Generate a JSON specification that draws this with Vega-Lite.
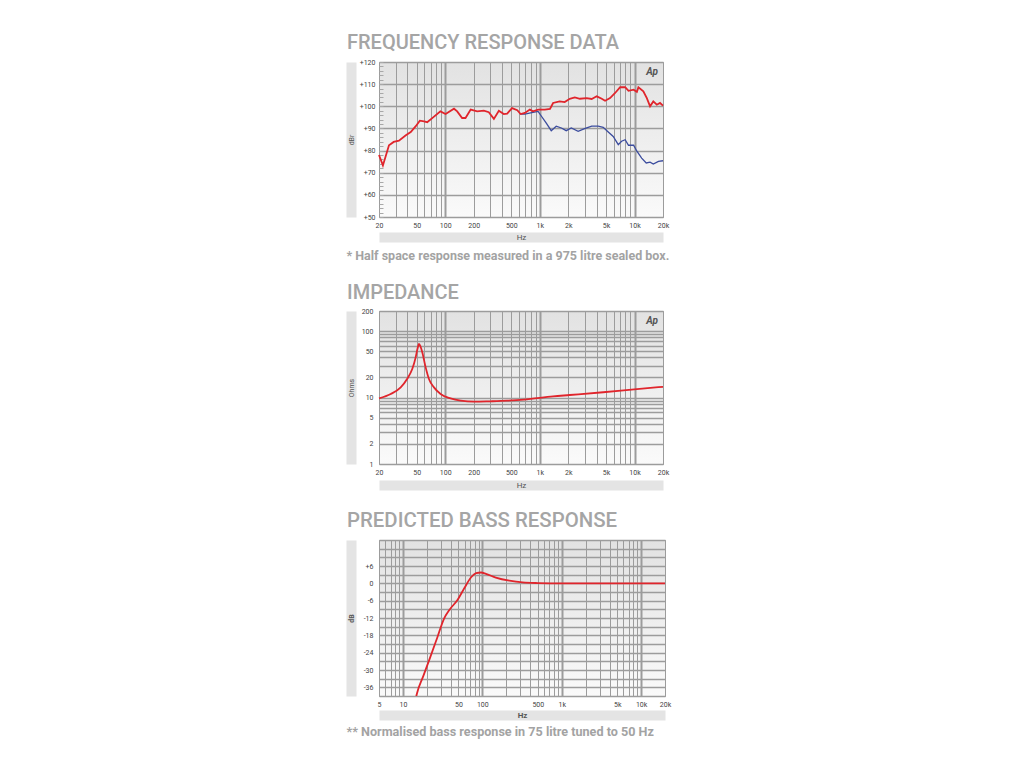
{
  "$schema": "https://vega.github.io/schema/vega-lite/v6.json",
  "padding": {"left": 346, "top": 32, "right": 0, "bottom": 0},
  "background": "#ffffff",
  "spacing": 20,
  "datasets": {
    "fr_red": [
      {"f": 20, "db": 78}, {"f": 22, "db": 73.3}, {"f": 25.5, "db": 82.4}, {"f": 28.6, "db": 83.9},
      {"f": 32.5, "db": 84.5}, {"f": 38.4, "db": 86.9}, {"f": 43.3, "db": 88.4}, {"f": 48.9, "db": 91},
      {"f": 54, "db": 93.5}, {"f": 59.9, "db": 93.2}, {"f": 64.6, "db": 92.8}, {"f": 74.6, "db": 95},
      {"f": 89, "db": 97.7}, {"f": 101, "db": 96.5}, {"f": 124, "db": 98.9}, {"f": 134, "db": 97.7},
      {"f": 151, "db": 94.7}, {"f": 164, "db": 94.7}, {"f": 186, "db": 98.5}, {"f": 218, "db": 97.7},
      {"f": 256, "db": 98}, {"f": 289, "db": 97.3}, {"f": 327, "db": 94.3}, {"f": 369, "db": 98},
      {"f": 416, "db": 96.5}, {"f": 452, "db": 96.7}, {"f": 509, "db": 99.2}, {"f": 578, "db": 98.2},
      {"f": 626, "db": 96.5}, {"f": 695, "db": 97}, {"f": 784, "db": 98.5}, {"f": 847, "db": 97.7},
      {"f": 958, "db": 98.5}, {"f": 1130, "db": 98.5}, {"f": 1280, "db": 98.8}, {"f": 1380, "db": 101.5},
      {"f": 1620, "db": 102.2}, {"f": 1830, "db": 101.9}, {"f": 2070, "db": 103.4}, {"f": 2340, "db": 104},
      {"f": 2650, "db": 103.4}, {"f": 3120, "db": 103.7}, {"f": 3530, "db": 103.3}, {"f": 3990, "db": 104.5},
      {"f": 4510, "db": 103.4}, {"f": 4890, "db": 102.5}, {"f": 5520, "db": 103.7}, {"f": 6240, "db": 106},
      {"f": 7050, "db": 108.6}, {"f": 7970, "db": 108.6}, {"f": 8640, "db": 107}, {"f": 9780, "db": 107.5},
      {"f": 10600, "db": 106.5}, {"f": 11000, "db": 108.6}, {"f": 12400, "db": 106.8}, {"f": 13500, "db": 103.7},
      {"f": 14600, "db": 100}, {"f": 15800, "db": 102.2}, {"f": 17200, "db": 100.7}, {"f": 18600, "db": 101.5},
      {"f": 20000, "db": 100.3}
    ],
    "fr_blue": [
      {"f": 626, "db": 96.5}, {"f": 695, "db": 96.5}, {"f": 847, "db": 97.3}, {"f": 958, "db": 97.7},
      {"f": 1040, "db": 95.5}, {"f": 1170, "db": 92.4}, {"f": 1320, "db": 89}, {"f": 1490, "db": 91},
      {"f": 1690, "db": 90.2}, {"f": 1900, "db": 89}, {"f": 2150, "db": 90.2}, {"f": 2540, "db": 88.7},
      {"f": 2970, "db": 89.9}, {"f": 3530, "db": 91}, {"f": 4130, "db": 91}, {"f": 4670, "db": 90.5},
      {"f": 5280, "db": 88.4}, {"f": 5960, "db": 86.4}, {"f": 6740, "db": 82.7}, {"f": 7300, "db": 84.2},
      {"f": 7970, "db": 84.9}, {"f": 8640, "db": 82.4}, {"f": 9780, "db": 82.4}, {"f": 10600, "db": 79.7},
      {"f": 11900, "db": 76.6}, {"f": 13300, "db": 74.4}, {"f": 14600, "db": 74.8}, {"f": 15800, "db": 73.9},
      {"f": 17900, "db": 75.1}, {"f": 20000, "db": 75.4}
    ],
    "imp": [
      {"f": 20, "ohm": 9.7}, {"f": 26.6, "ohm": 11.3}, {"f": 33.9, "ohm": 14.2}, {"f": 39.6, "ohm": 19},
      {"f": 44.9, "ohm": 26.8}, {"f": 48.8, "ohm": 40.2}, {"f": 51, "ohm": 54}, {"f": 52.9, "ohm": 63.8},
      {"f": 55, "ohm": 58}, {"f": 57.3, "ohm": 48}, {"f": 62.2, "ohm": 28.4}, {"f": 67.4, "ohm": 19},
      {"f": 76.2, "ohm": 14.2}, {"f": 89.4, "ohm": 11.3}, {"f": 114, "ohm": 9.7}, {"f": 146, "ohm": 8.95},
      {"f": 202, "ohm": 8.65}, {"f": 300, "ohm": 8.77}, {"f": 452, "ohm": 8.95}, {"f": 678, "ohm": 9.27},
      {"f": 1380, "ohm": 10.4}, {"f": 2070, "ohm": 10.9}, {"f": 4670, "ohm": 12}, {"f": 10600, "ohm": 13.4},
      {"f": 20000, "ohm": 14.5}
    ],
    "bass": [
      {"f": 14.5, "db": -40}, {"f": 15, "db": -38.2}, {"f": 18, "db": -32.2}, {"f": 22, "db": -25.7},
      {"f": 27, "db": -18.9}, {"f": 33, "db": -12.2}, {"f": 38.5, "db": -9.2}, {"f": 48.9, "db": -5.7},
      {"f": 59.3, "db": -1.7}, {"f": 72.3, "db": 2.1}, {"f": 83.4, "db": 3.5}, {"f": 96.6, "db": 3.75},
      {"f": 111, "db": 3.3}, {"f": 148, "db": 2.0}, {"f": 219, "db": 0.9}, {"f": 322, "db": 0.3},
      {"f": 500, "db": 0.1}, {"f": 1000, "db": 0}, {"f": 20000, "db": 0}
    ],
    "one": [{"k": 1}]
  },
  "vconcat": [
    {
      "title": {"text": "* Half space response measured in a 975 litre sealed box.", "orient": "bottom", "anchor": "start", "fontSize": 12.5, "fontWeight": "bold", "color": "#a3a3a3", "offset": 8, "font": "Roboto"},
      "vconcat": [
        {
          "width": 284, "height": 155,
          "title": {"text": "FREQUENCY RESPONSE DATA", "offset": 5},
          "layer": [
            {
              "data": {"name": "fr_blue"},
              "mark": {"type": "line", "color": "#3b4c9e", "strokeWidth": 1.3},
              "encoding": {
                "x": {"field": "f", "type": "quantitative", "scale": {"type": "log", "domain": [20, 20000], "nice": false},
                  "axis": {"values": [20,30,40,50,60,70,80,90,100,200,300,400,500,600,700,800,900,1000,2000,3000,4000,5000,6000,7000,8000,9000,10000,20000],
                    "grid": true, "gridColor": "#9c9c9c",
                    "gridWidth": {"condition": {"test": "indexof([100,1000,10000], datum.value) >= 0", "value": 2}, "value": 1},
                    "ticks": false, "domain": false, "title": null, "labelOverlap": false, "labelFlush": false, "labelPadding": 4,
                    "labelExpr": "indexof([20,50,100,200,500,1000,2000,5000,10000,20000], datum.value) >= 0 ? (datum.value >= 1000 ? (datum.value/1000) + 'k' : '' + datum.value) : ''"}},
                "y": {"field": "db", "type": "quantitative", "scale": {"domain": [50, 120], "nice": false, "zero": false},
                  "axis": {"values": [50,52,54,56,58,60,62,64,66,68,70,72,74,76,78,80,82,84,86,88,90,92,94,96,98,100,102,104,106,108,110,112,114,116,118,120],
                    "grid": true, "gridColor": "#9c9c9c", "gridWidth": 1.5,
                    "gridOpacity": {"condition": {"test": "datum.value % 10 == 0", "value": 1}, "value": 0},
                    "tickSize": -4, "tickColor": "#a8a8a8", "domain": false, "title": null, "labelOverlap": false, "labelFlush": false, "labelPadding": 8,
                    "labelExpr": "datum.value % 10 == 0 ? '+' + datum.value : ''"}}
              }
            },
            {
              "data": {"name": "fr_red"},
              "mark": {"type": "line", "color": "#e0252c", "strokeWidth": 1.8},
              "encoding": {
                "x": {"field": "f", "type": "quantitative", "axis": null},
                "y": {"field": "db", "type": "quantitative", "axis": null}
              }
            },
            {
              "data": {"name": "one"},
              "mark": {"type": "text", "text": "Ap", "align": "right", "baseline": "middle", "dx": -5, "dy": 10, "fontSize": 10, "fontStyle": "italic", "fontWeight": "bold", "color": "#555555", "font": "Roboto"},
              "encoding": {
                "x": {"datum": 20000, "type": "quantitative",
                  "axis": {"orient": "bottom", "offset": 20, "domain": true, "domainColor": "#e4e4e4", "domainWidth": 10, "ticks": false, "labels": false, "grid": false,
                    "title": "Hz", "titleY": 0, "titleBaseline": "middle", "titleFontSize": 8, "titleFontWeight": "normal", "titleColor": "#555555"}},
                "y": {"datum": 120, "type": "quantitative",
                  "axis": {"orient": "left", "offset": 28, "domain": true, "domainColor": "#e4e4e4", "domainWidth": 10, "ticks": false, "labels": false, "grid": false,
                    "title": "dBr", "titleX": 0, "titleBaseline": "middle", "titleAngle": -90, "titleFontSize": 7, "titleFontWeight": "normal", "titleColor": "#555555"}}
              }
            }
          ],
          "resolve": {"axis": {"x": "independent", "y": "independent"}}
        }
      ]
    },
    {
      "width": 284, "height": 153,
      "title": {"text": "IMPEDANCE", "offset": 4},
      "layer": [
        {
          "data": {"name": "imp"},
          "mark": {"type": "line", "color": "#e0252c", "strokeWidth": 1.8, "interpolate": "monotone"},
          "encoding": {
            "x": {"field": "f", "type": "quantitative", "scale": {"type": "log", "domain": [20, 20000], "nice": false},
              "axis": {"values": [20,30,40,50,60,70,80,90,100,200,300,400,500,600,700,800,900,1000,2000,3000,4000,5000,6000,7000,8000,9000,10000,20000],
                "grid": true, "gridColor": "#9c9c9c",
                "gridWidth": {"condition": {"test": "indexof([100,1000,10000], datum.value) >= 0", "value": 2}, "value": 1},
                "ticks": false, "domain": false, "title": null, "labelOverlap": false, "labelFlush": false, "labelPadding": 4,
                "labelExpr": "indexof([20,50,100,200,500,1000,2000,5000,10000,20000], datum.value) >= 0 ? (datum.value >= 1000 ? (datum.value/1000) + 'k' : '' + datum.value) : ''"}},
            "y": {"field": "ohm", "type": "quantitative", "scale": {"type": "log", "domain": [1, 200], "nice": false},
              "axis": {"values": [1,2,3,4,5,6,7,8,9,10,20,30,40,50,60,70,80,90,100,200],
                "grid": true, "gridColor": "#9c9c9c", "gridWidth": 1.5,
                "ticks": false, "domain": false, "title": null, "labelOverlap": false, "labelFlush": false, "labelPadding": 6,
                "labelExpr": "indexof([1,2,5,10,20,50,100,200], datum.value) >= 0 ? '' + datum.value : ''"}}
          }
        },
        {
          "data": {"name": "one"},
          "mark": {"type": "text", "text": "Ap", "align": "right", "baseline": "middle", "dx": -5, "dy": 10, "fontSize": 10, "fontStyle": "italic", "fontWeight": "bold", "color": "#555555", "font": "Roboto"},
          "encoding": {
            "x": {"datum": 20000, "type": "quantitative",
              "axis": {"orient": "bottom", "offset": 21, "domain": true, "domainColor": "#e4e4e4", "domainWidth": 10, "ticks": false, "labels": false, "grid": false,
                "title": "Hz", "titleY": 0, "titleBaseline": "middle", "titleFontSize": 8, "titleFontWeight": "normal", "titleColor": "#555555"}},
            "y": {"datum": 200, "type": "quantitative",
              "axis": {"orient": "left", "offset": 28, "domain": true, "domainColor": "#e4e4e4", "domainWidth": 10, "ticks": false, "labels": false, "grid": false,
                "title": "Ohms", "titleX": 0, "titleBaseline": "middle", "titleAngle": -90, "titleFontSize": 7, "titleFontWeight": "normal", "titleColor": "#555555"}}
          }
        }
      ],
      "resolve": {"axis": {"x": "independent", "y": "independent"}}
    },
    {
      "title": {"text": "** Normalised bass response in 75 litre tuned to 50 Hz", "orient": "bottom", "anchor": "start", "fontSize": 12.6, "fontWeight": "bold", "color": "#a3a3a3", "offset": 6, "font": "Roboto"},
      "vconcat": [
        {
          "width": 286, "height": 156,
          "title": {"text": "PREDICTED BASS RESPONSE", "offset": 3, "fontSize": 20.4},
          "layer": [
            {
              "data": {"name": "bass"},
              "mark": {"type": "line", "color": "#e0252c", "strokeWidth": 1.8, "interpolate": "monotone", "clip": true},
              "encoding": {
                "x": {"field": "f", "type": "quantitative", "scale": {"type": "log", "domain": [5, 20000], "nice": false},
                  "axis": {"values": [5,6,7,8,9,10,20,30,40,50,60,70,80,90,100,200,300,400,500,600,700,800,900,1000,2000,3000,4000,5000,6000,7000,8000,9000,10000,20000],
                    "grid": true, "gridColor": "#9c9c9c",
                    "gridWidth": {"condition": {"test": "indexof([10,100,1000,10000], datum.value) >= 0", "value": 2}, "value": 1},
                    "ticks": false, "domain": false, "title": null, "labelOverlap": false, "labelFlush": false, "labelPadding": 4,
                    "labelExpr": "indexof([5,10,50,100,500,1000,5000,10000,20000], datum.value) >= 0 ? (datum.value >= 1000 ? (datum.value/1000) + 'k' : '' + datum.value) : ''"}},
                "y": {"field": "db", "type": "quantitative", "scale": {"domain": [-39, 15], "nice": false, "zero": false},
                  "axis": {"values": [-39,-36,-33,-30,-27,-24,-21,-18,-15,-12,-9,-6,-3,0,3,6,9,12,15],
                    "grid": true, "gridColor": "#9c9c9c", "gridWidth": 1.5,
                    "ticks": false, "domain": false, "title": null, "labelOverlap": false, "labelFlush": false, "labelPadding": 6,
                    "labelExpr": "(datum.value % 6 == 0 && datum.value <= 6) ? (datum.value > 0 ? '+' + datum.value : '' + datum.value) : ''"}}
              }
            },
            {
              "data": {"name": "one"},
              "mark": {"type": "text", "text": ""},
              "encoding": {
                "x": {"datum": 20000, "type": "quantitative",
                  "axis": {"orient": "bottom", "offset": 19, "domain": true, "domainColor": "#e4e4e4", "domainWidth": 10, "ticks": false, "labels": false, "grid": false,
                    "title": "Hz", "titleY": 0, "titleBaseline": "middle", "titleFontSize": 8, "titleFontWeight": "bold", "titleColor": "#555555"}},
                "y": {"datum": 15, "type": "quantitative",
                  "axis": {"orient": "left", "offset": 28, "domain": true, "domainColor": "#e4e4e4", "domainWidth": 10, "ticks": false, "labels": false, "grid": false,
                    "title": "dB", "titleX": 0, "titleBaseline": "middle", "titleAngle": -90, "titleFontSize": 7, "titleFontWeight": "bold", "titleColor": "#555555"}}
              }
            }
          ],
          "resolve": {"axis": {"x": "independent", "y": "independent"}}
        }
      ]
    }
  ],
  "config": {
    "view": {"stroke": "#9c9c9c", "strokeWidth": 1,
      "fill": {"gradient": "linear", "x1": 0, "y1": 0, "x2": 0, "y2": 1, "stops": [{"offset": 0, "color": "#e2e2e2"}, {"offset": 1, "color": "#fafafa"}]}},
    "axis": {"labelFont": "Roboto", "labelFontSize": 7, "labelColor": "#444444", "titleFont": "Roboto"},
    "title": {"font": "Roboto", "fontWeight": 500, "fontSize": 20, "color": "#a5a5a5", "anchor": "start", "baseline": "alphabetic", "offset": 8}
  }
}
